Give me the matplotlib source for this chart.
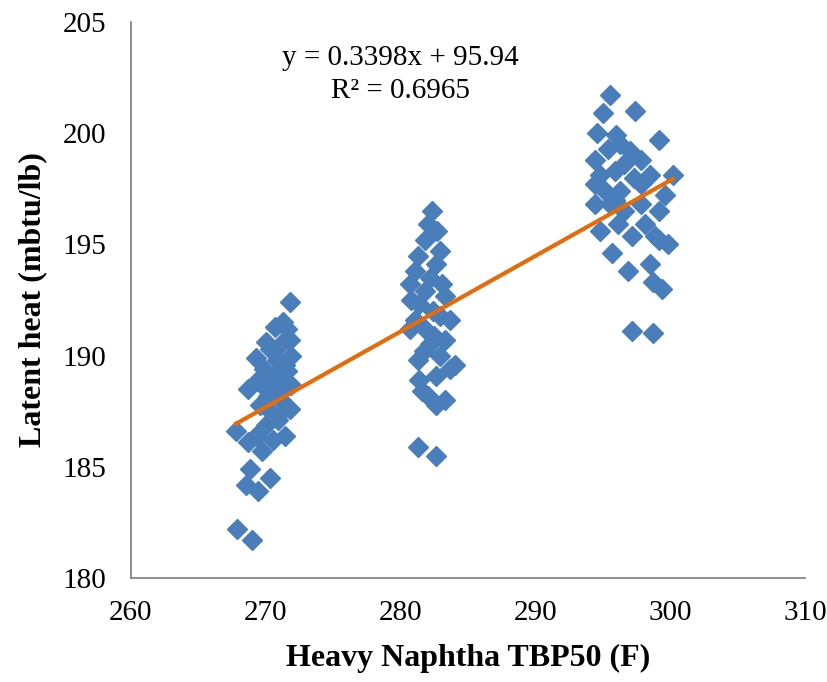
import matplotlib
matplotlib.use('Agg')
import matplotlib.pyplot as plt
import numpy as np

plt.rcParams['font.family'] = ['Liberation Serif', 'DejaVu Serif']

# cluster around TBP50 ~ 270 F
x1 = [267.8, 267.9, 269.0, 268.5, 268.8, 269.4, 270.3, 268.7, 269.3, 269.7,
      270.5, 270.0, 271.4, 270.9, 268.7, 269.4, 270.2, 271.1, 271.8, 269.3,
      269.9, 270.8, 271.6, 271.1, 271.8, 270.7, 271.3, 271.8, 270.3, 269.7,
      271.4, 271.9, 270.2, 270.8, 271.4, 270.5, 269.6, 271.6, 271.9, 270.0,
      270.6]
y1 = [186.6, 182.2, 181.7, 184.2, 184.9, 183.9, 184.5, 186.1, 186.4, 185.7,
      186.2, 186.9, 186.4, 187.1, 188.5, 188.9, 188.2, 188.0, 187.6, 189.9,
      189.4, 189.8, 189.3, 190.5, 190.7, 191.3, 191.5, 192.4, 190.3, 188.7,
      188.7, 190.0, 187.6, 187.3, 189.6, 189.1, 187.8, 191.2, 188.7, 190.6,
      188.4]

# cluster around 282 F
x2 = [281.3, 282.6, 282.3, 282.0, 281.8, 281.3, 282.9, 281.1, 282.6, 280.7,
      281.8, 283.3, 281.4, 282.9, 283.7, 281.1, 281.8, 282.2, 282.9, 281.3,
      282.6, 283.7, 281.4, 282.0, 283.3, 282.6, 284.0, 283.3, 280.8, 282.7,
      280.7, 282.2, 281.7, 282.5, 283.1, 281.6, 282.4]
y2 = [185.9, 185.5, 196.5, 195.9, 195.2, 194.5, 194.7, 193.8, 194.1, 193.2,
      192.9, 192.7, 192.3, 191.8, 191.6, 191.6, 191.2, 190.5, 190.0, 189.8,
      189.1, 189.4, 188.9, 188.2, 188.0, 187.8, 189.6, 190.7, 192.5, 195.6,
      191.2, 193.5, 190.2, 190.9, 193.2, 188.4, 192.0]

# cluster around 297 F
x3 = [295.5, 295.0, 297.4, 294.6, 295.4, 296.3, 297.0, 297.8, 299.2, 294.4,
      294.8, 295.9, 296.6, 294.4, 295.2, 296.3, 297.8, 298.5, 300.2, 294.4,
      295.5, 296.6, 297.8, 299.2, 299.6, 294.8, 296.1, 297.2, 298.1, 298.9,
      299.8, 299.2, 295.7, 296.9, 298.5, 298.7, 299.4, 297.2, 298.7, 296.0,
      297.3, 295.9]
y3 = [201.7, 200.9, 201.0, 200.0, 199.3, 199.5, 199.2, 198.8, 199.7, 198.8,
      198.1, 198.3, 198.6, 197.7, 197.4, 197.4, 197.7, 198.1, 198.1, 196.8,
      196.8, 196.5, 196.8, 196.5, 197.2, 195.6, 195.9, 195.4, 195.9, 195.4,
      195.0, 195.2, 194.6, 193.8, 194.1, 193.3, 193.0, 191.1, 191.0, 199.9,
      198.0, 197.0]

slope = 0.3398
intercept = 95.94
r2 = 0.6965

tbp = np.array(x1 + x2 + x3)
heat = np.array(y1 + y2 + y3)

fig = plt.figure(figsize=(8.27, 6.82), dpi=100)
ax = fig.add_axes([0.1584, 0.1525, 0.815, 0.8152])

ax.plot(tbp, heat, 'D', color='#4A7EBB', markeredgecolor='#4A7EBB',
        markersize=10, zorder=2)

xfit = np.array([tbp.min(), tbp.max()])
ax.plot(xfit, slope * xfit + intercept, color='#E46C0A', lw=3, zorder=3)

ax.text(280, 203.4, 'y = %.4fx + %.2f' % (slope, intercept),
        ha='center', va='center', fontsize=21)
ax.text(280, 201.9, 'R² = %.4f' % r2, ha='center', va='center', fontsize=21)

ax.set_xlim(260, 310)
ax.set_ylim(180, 205)
ax.set_xticks(range(260, 311, 10))
ax.set_yticks(range(180, 206, 5))

for s in ['top', 'right']:
    ax.spines[s].set_visible(False)
for s in ['left', 'bottom']:
    ax.spines[s].set_color('#868686')
    ax.spines[s].set_linewidth(1.3)

ax.tick_params(axis='both', length=0, labelsize=21)
ax.tick_params(axis='y', pad=18)
ax.tick_params(axis='x', pad=16)

ax.set_xlabel('Heavy Naphtha TBP50 (F)', fontsize=23, fontweight='bold')
ax.set_ylabel('Latent heat (mbtu/lb)', fontsize=23, fontweight='bold')
ax.xaxis.set_label_coords(0.5, -0.118)
ax.yaxis.set_label_coords(-0.125, 0.5)

fig.savefig('out.png', dpi=100)
